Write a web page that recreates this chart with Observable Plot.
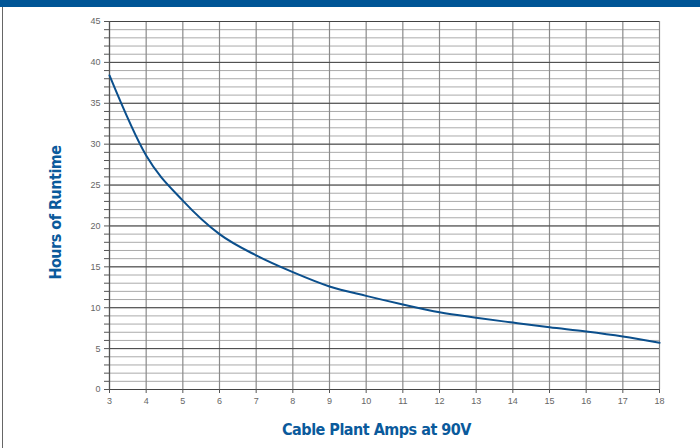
<!DOCTYPE html>
<html>
<head>
<meta charset="utf-8">
<script src="https://cdn.jsdelivr.net/npm/d3@7"></script>
<script src="https://cdn.jsdelivr.net/npm/@observablehq/plot@0.6"></script>
<style>
  html, body { margin: 0; padding: 0; background: #fff; }
  #wrap { position: relative; width: 700px; height: 448px; overflow: hidden; }
  #bar { position: absolute; left: 0; top: 0; width: 700px; height: 7px; background: #005596; }
  #border { position: absolute; left: 2px; top: 7px; width: 1px; height: 441px; background: #666; }
  #chart { position: absolute; left: 0; top: 0; }
  .ttl text { font-family: 'DejaVu Sans Condensed', 'DejaVu Sans', sans-serif; font-stretch: condensed; letter-spacing: -0.5px; }
</style>
</head>
<body>
<div id="wrap">
  <div id="chart"></div>
  <div id="bar"></div>
  <div id="border"></div>
</div>
<script>
const amps = [3, 4, 5, 6, 7, 8, 9, 10, 11, 12, 13, 14, 15, 16, 17, 18];
const hours = [38.4, 28.6, 23.1, 19.0, 16.4, 14.35, 12.6, 11.45, 10.4, 9.45, 8.78, 8.18, 7.6, 7.08, 6.47, 5.72];
const xTicks = d3.range(3, 19);
const yTicks = d3.range(0, 46);
const yMajor = d3.range(0, 46, 5);
const xTitle = "Cable Plant Amps at 90V";
const yTitle = "Hours of Runtime";

const data = amps.map((a, i) => ({amps: a, hours: hours[i]}));

const chart = Plot.plot({
  width: 700,
  height: 448,
  marginLeft: 109,
  marginRight: 41,
  marginTop: 21,
  marginBottom: 59,
  style: {fontFamily: "'Liberation Sans', Arial, sans-serif", fontSize: "9px", color: "#666", background: "transparent"},
  x: {domain: [3, 18], label: null},
  y: {domain: [0, 45], label: null},
  marks: [
    Plot.gridY(yTicks, {stroke: "#aaaaaa", strokeOpacity: 1, strokeWidth: 1}),
    Plot.gridX(xTicks, {stroke: "#8a8a8a", strokeOpacity: 1, strokeWidth: 1.2}),
    Plot.gridY(yMajor, {stroke: "#444", strokeOpacity: 1, strokeWidth: 1}),
    Plot.ruleX([3], {stroke: "#555", strokeWidth: 1.2}),
    Plot.ruleY([0], {stroke: "#444", strokeWidth: 1.2}),
    Plot.axisY({ticks: yTicks, tickFormat: d => d % 5 === 0 ? d : "", tickSize: 5, tickPadding: 4, stroke: "#555", fill: "#666", label: null}),
    Plot.axisX({ticks: xTicks, tickSize: 4, tickPadding: 4, stroke: "#555", fill: "#666", label: null}),
    Plot.line(data, {x: "amps", y: "hours", stroke: "#0b4f8c", strokeWidth: 2, curve: "monotone-x"}),
    Plot.text([yTitle], {text: d => d, className: "ttl", frameAnchor: "left", textAnchor: "middle", dx: -54, dy: 7, rotate: -90, fill: "#0a5a9c", fontSize: 16, fontWeight: "bold"}),
    Plot.text([xTitle], {text: d => d, className: "ttl", frameAnchor: "bottom", dx: -8, dy: 45, fill: "#0a5a9c", fontSize: 16, fontWeight: "bold"})
  ]
});
document.getElementById("chart").appendChild(chart);
</script>
</body>
</html>
